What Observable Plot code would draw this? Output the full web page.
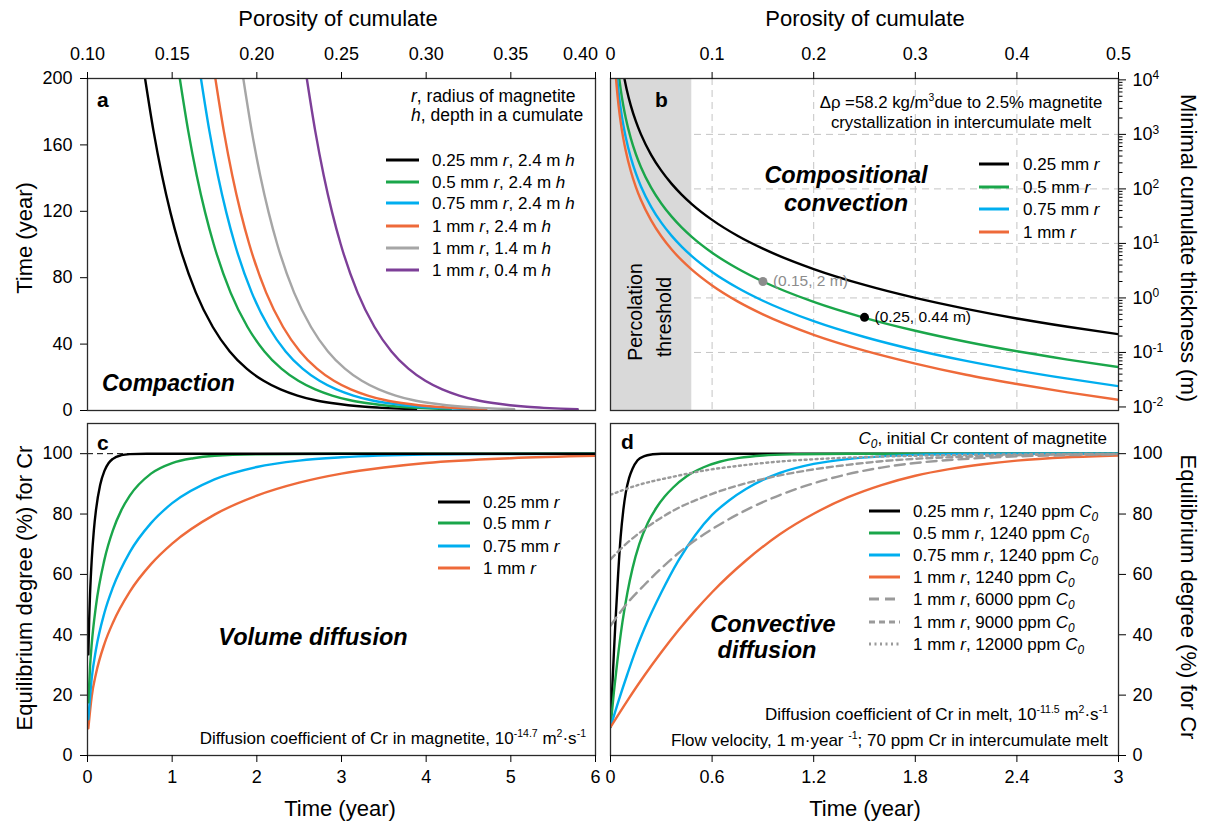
<!DOCTYPE html>
<html><head><meta charset="utf-8">
<script src="https://cdn.jsdelivr.net/npm/d3@7"></script>
<script src="https://cdn.jsdelivr.net/npm/@observablehq/plot@0.6"></script>
<style>
body{margin:0;background:#fff;}
#wrap{position:relative;width:1207px;height:823px;overflow:hidden;background:#fff;}
</style></head><body><div id="wrap"></div>
<script>
// ---------- colours ----------
const cBlack = "#000000", cGreen = "#1aa64a", cBlue = "#00aeef", cOrange = "#ee6a3a", cGrey = "#a6a6a6", cPurple = "#7d3f98", cDash = "#9a9a9a";
const FONT = '"Liberation Sans", Arial, Helvetica, sans-serif';

// ---------- panel a : compaction ----------
const aXTicks = [0.10, 0.15, 0.20, 0.25, 0.30, 0.35, 0.40];
const aYTicks = [0, 40, 80, 120, 160, 200];
const aLabels = [["0.25 mm ", "r", ", 2.4 m ", "h"], ["0.5 mm ", "r", ", 2.4 m ", "h"], ["0.75 mm ", "r", ", 2.4 m ", "h"], ["1 mm ", "r", ", 2.4 m ", "h"], ["1 mm ", "r", ", 1.4 m ", "h"], ["1 mm ", "r", ", 0.4 m ", "h"]];
const aTime = [200, 168.3, 141.6, 119.2, 100.3, 71.0, 50.3, 35.6, 25.2, 17.9, 12.7, 9.0, 6.3, 4.5, 3.2, 2.25, 1.6, 1.13, 0.8];
const aPhiBlack  = [0.134, 0.139, 0.144, 0.149, 0.154, 0.164, 0.174, 0.184, 0.194, 0.204, 0.214, 0.224, 0.234, 0.244, 0.254, 0.264, 0.274, 0.284, 0.294];
const aPhiGreen  = [0.1545, 0.1595, 0.1645, 0.1695, 0.1745, 0.1845, 0.1945, 0.2045, 0.2145, 0.2245, 0.2345, 0.2445, 0.2545, 0.2645, 0.2745, 0.2845, 0.2945, 0.3045, 0.3145];
const aPhiBlue   = [0.167, 0.172, 0.177, 0.182, 0.187, 0.197, 0.207, 0.217, 0.227, 0.237, 0.247, 0.257, 0.267, 0.277, 0.287, 0.297, 0.307, 0.317, 0.327];
const aPhiOrange = [0.1755, 0.1805, 0.1855, 0.1905, 0.1955, 0.2055, 0.2155, 0.2255, 0.2355, 0.2455, 0.2555, 0.2655, 0.2755, 0.2855, 0.2955, 0.3055, 0.3155, 0.3255, 0.3355];
const aPhiGrey   = [0.192, 0.197, 0.202, 0.207, 0.212, 0.222, 0.232, 0.242, 0.252, 0.262, 0.272, 0.282, 0.292, 0.302, 0.312, 0.322, 0.332, 0.342, 0.352];
const aPhiPurple = [0.2295, 0.2345, 0.2395, 0.2445, 0.2495, 0.2595, 0.2695, 0.2795, 0.2895, 0.2995, 0.3095, 0.3195, 0.3295, 0.3395, 0.3495, 0.3595, 0.3695, 0.3795, 0.3895];
const aColors = [cBlack, cGreen, cBlue, cOrange, cGrey, cPurple];

// ---------- panel b : compositional convection ----------
const bXTicks = [0, 0.1, 0.2, 0.3, 0.4, 0.5];
const bYTicks = [0.01, 0.1, 1, 10, 100, 1000, 10000];
const bGridX = [0.1, 0.2, 0.3, 0.4];
const bGridY = [0.1, 1, 10, 100, 1000];
const bPercolation = 0.08;
const bLabels = [["0.25 mm ", "r"], ["0.5 mm ", "r"], ["0.75 mm ", "r"], ["1 mm ", "r"]];
const bPhiBlack = [0.013, 0.016, 0.02, 0.025, 0.03, 0.04, 0.05, 0.06, 0.07, 0.08, 0.1, 0.125, 0.15, 0.2, 0.25, 0.3, 0.35, 0.4, 0.45, 0.5];
const bHBlack   = [12290, 6592, 3375, 1728, 1000, 422, 216, 125, 78.7, 52.7, 27, 13.8, 8, 3.38, 1.73, 1.0, 0.63, 0.42, 0.296, 0.216];
const bPhiGreen = [0.0085, 0.01, 0.0125, 0.015, 0.02, 0.025, 0.03, 0.04, 0.05, 0.06, 0.07, 0.08, 0.1, 0.125, 0.15, 0.2, 0.25, 0.3, 0.35, 0.4, 0.45, 0.5];
const bHGreen   = [10990, 6750, 3456, 2000, 844, 432, 250, 105.5, 54, 31.3, 19.7, 13.2, 6.75, 3.46, 2.0, 0.844, 0.432, 0.25, 0.157, 0.105, 0.074, 0.054];
const bPhiBlue  = [0.0065, 0.008, 0.01, 0.0125, 0.015, 0.02, 0.025, 0.03, 0.04, 0.05, 0.06, 0.07, 0.08, 0.1, 0.125, 0.15, 0.2, 0.25, 0.3, 0.35, 0.4, 0.45, 0.5];
const bHBlue    = [10925, 5860, 3000, 1536, 889, 375, 192, 111, 46.9, 24, 13.9, 8.75, 5.86, 3.0, 1.54, 0.889, 0.375, 0.192, 0.111, 0.070, 0.047, 0.033, 0.024];
const bPhiOrange = [0.0052, 0.006, 0.008, 0.01, 0.0125, 0.015, 0.02, 0.025, 0.03, 0.04, 0.05, 0.06, 0.07, 0.08, 0.1, 0.125, 0.15, 0.2, 0.25, 0.3, 0.35, 0.4, 0.45, 0.5];
const bHOrange   = [12000, 7813, 3296, 1688, 864, 500, 211, 108, 62.5, 26.4, 13.5, 7.81, 4.92, 3.3, 1.69, 0.864, 0.5, 0.211, 0.108, 0.0625, 0.039, 0.0264, 0.0185, 0.0135];
const bColors = [cBlack, cGreen, cBlue, cOrange];
const bPointPhi = [0.15, 0.25];
const bPointH = [2, 0.44];
const bPointText = ["(0.15, 2 m)", "(0.25, 0.44 m)"];
const bPointColor = ["#8c8c8c", "#000000"];

// ---------- panel c : volume diffusion ----------
const cXTicks = [0, 1, 2, 3, 4, 5, 6];
const cYTicks = [0, 20, 40, 60, 80, 100];
const cLabels = bLabels;
const cTBlack = [0.01, 0.02, 0.03, 0.05, 0.075, 0.1, 0.15, 0.2, 0.25, 0.3, 0.4, 0.5, 0.7, 1, 2, 3, 4, 5, 6];
const cVBlack = [33.5, 45.2, 53.4, 64.9, 74.6, 81.3, 89.7, 94.3, 96.9, 98.3, 99.5, 99.85, 100, 100, 100, 100, 100, 100, 100];
const cTGreen = [0.01, 0.03, 0.05, 0.1, 0.2, 0.3, 0.4, 0.5, 0.75, 1, 1.25, 1.5, 2, 3, 4, 5, 6];
const cVGreen = [17.6, 29.4, 37.0, 49.6, 64.9, 74.6, 81.3, 86.1, 93.4, 96.9, 98.5, 99.3, 99.8, 100, 100, 100, 100];
const cTBlue = [0.01, 0.05, 0.1, 0.2, 0.3, 0.5, 0.75, 1, 1.5, 2, 2.5, 3, 4, 5, 6];
const cVBlue = [12.0, 25.6, 35.1, 47.3, 55.7, 67.4, 77.0, 83.6, 91.5, 95.6, 97.7, 98.8, 99.7, 99.9, 100];
const cTOrange = [0.01, 0.05, 0.1, 0.2, 0.3, 0.5, 0.75, 1, 1.5, 2, 2.5, 3, 3.5, 4, 5, 6];
const cVOrange = [9.0, 19.6, 27.1, 37.0, 44.0, 54.3, 63.4, 70.2, 79.8, 86.1, 90.4, 93.4, 95.4, 96.9, 98.5, 99.3];
const cFull = 100;

// ---------- panel d : convective diffusion ----------
const dXTicks = [0, 0.6, 1.2, 1.8, 2.4, 3];
const dYTicks = [0, 20, 40, 60, 80, 100];
const dLabels = [["0.25 mm ", "r", ", 1240 ppm "], ["0.5 mm ", "r", ", 1240 ppm "], ["0.75 mm ", "r", ", 1240 ppm "], ["1 mm ", "r", ", 1240 ppm "], ["1 mm ", "r", ", 6000 ppm "], ["1 mm ", "r", ", 9000 ppm "], ["1 mm ", "r", ", 12000 ppm "]];
const dTBlack = [0, 0.01, 0.02, 0.03, 0.045, 0.06, 0.075, 0.09, 0.11, 0.13, 0.16, 0.2, 0.25, 0.3, 0.4, 3];
const dVBlack = [9.4, 22, 34, 45, 60, 72.5, 81, 87, 92, 95, 97.8, 99.2, 99.8, 100, 100, 100];
const dTGreen = [0, 0.02, 0.04, 0.07, 0.1, 0.13, 0.17, 0.22, 0.27, 0.32, 0.37, 0.45, 0.55, 0.65, 0.76, 0.9, 1.1, 1.4, 3];
const dVGreen = [9.4, 21, 31, 44, 54, 62, 70, 77, 82, 85.8, 88.8, 92.5, 95.5, 97.4, 98.6, 99.4, 99.8, 100, 100];
const dTBlue = [0, 0.05, 0.1, 0.15, 0.2, 0.3, 0.4, 0.5, 0.6, 0.7, 0.8, 0.9, 1.0, 1.2, 1.4, 1.6, 1.8, 2.1, 2.5, 3];
const dVBlue = [9.4, 18.5, 27, 35, 42, 54, 64.5, 73, 79.7, 84.5, 88.3, 91.3, 93.6, 96.6, 98.2, 99.1, 99.6, 99.9, 100, 100];
const dTOrange = [0, 0.1, 0.2, 0.3, 0.4, 0.5, 0.6, 0.8, 1.0, 1.2, 1.4, 1.6, 1.8, 2.0, 2.2, 2.4, 2.7, 3.0];
const dVOrange = [9.4, 18.2, 26.5, 34.2, 41.4, 48.0, 54.1, 64.6, 73.3, 80.1, 85.5, 89.6, 92.7, 94.9, 96.5, 97.7, 98.8, 99.4];
const dT6000 = [0, 0.1, 0.2, 0.3, 0.4, 0.5, 0.6, 0.8, 1.0, 1.2, 1.4, 1.6, 1.8, 2.0, 2.2, 2.4, 2.7, 3];
const dV6000 = [43, 50.5, 56.5, 62, 67, 71.3, 75, 81.3, 86.3, 90.2, 93.2, 95.4, 96.9, 97.9, 98.6, 99.1, 99.5, 99.8];
const dT9000 = [0, 0.1, 0.2, 0.3, 0.4, 0.5, 0.6, 0.8, 1.0, 1.2, 1.4, 1.6, 1.8, 2.1, 2.4, 3];
const dV9000 = [65, 70.5, 75, 78.8, 82, 84.5, 86.7, 90.2, 92.8, 94.8, 96.3, 97.5, 98.3, 99, 99.5, 99.85];
const dT12000 = [0, 0.168, 0.365, 0.563, 0.76, 0.958, 1.155, 1.51, 2, 2.5, 3];
const dV12000 = [86.4, 89.7, 92.3, 94.5, 96, 97.2, 98, 98.9, 99.5, 99.8, 99.9];
const dDash = [null, null, null, null, "10,6", "6,4", "2,3.5"];
const dColors = [cBlack, cGreen, cBlue, cOrange, cDash, cDash, cDash];

// ---------- helpers ----------
const wrap = document.getElementById("wrap");
const baseStyle = {fontFamily: FONT, fontSize: "18px", color: "#000", background: "transparent", overflow: "visible"};
function place(el, left, top) { el.style.position = "absolute"; el.style.left = left + "px"; el.style.top = top + "px"; wrap.appendChild(el); }
function rows(xs, ys) { return xs.map((x, i) => ({x, y: ys[i]})); }
const frame = () => Plot.frame({stroke: "#2a2a2a", strokeWidth: 1.3});
const LW = 2.4;
const TS = 7;
const f2 = d3.format(".2f");

// ---------- panel a ----------
const aSets = [aPhiBlack, aPhiGreen, aPhiBlue, aPhiOrange, aPhiGrey, aPhiPurple];
const aLast = aXTicks[aXTicks.length - 1];
const plotA = Plot.plot({
  width: 600, height: 415, marginLeft: 87, marginRight: 5, marginTop: 78, marginBottom: 5,
  x: {domain: [0.10, 0.40]}, y: {domain: [0, 200]}, style: baseStyle,
  marks: [
    ...aSets.map((p, i) => Plot.line(rows(p, aTime), {x: "x", y: "y", stroke: aColors[i], strokeWidth: LW, curve: "monotone-x", clip: true})),
    frame(),
    Plot.axisX({anchor: "top", ticks: aXTicks, tickFormat: d => d === aLast ? "" : f2(d), tickSize: TS, tickPadding: 12, label: null}),
    Plot.axisX({anchor: "top", ticks: [aLast], tickFormat: f2, tickSize: 0, tickPadding: 12 + TS, dx: -15, label: null}),
    Plot.axisY({anchor: "left", ticks: aYTicks, tickSize: TS, tickPadding: 8, label: null})
  ]
});
place(plotA, 0, 0);

// ---------- panel b ----------
const bSets = [[bPhiBlack, bHBlack], [bPhiGreen, bHGreen], [bPhiBlue, bHBlue], [bPhiOrange, bHOrange]];
const bMinor = d3.scaleLog().domain([0.01, 10000]).ticks().filter(v => !bYTicks.some(t => Math.abs(t - v) / t < 1e-6));
const bPts = bPointPhi.map((p, i) => ({x: p, y: bPointH[i], text: bPointText[i], color: bPointColor[i]}));
const plotB = Plot.plot({
  width: 607, height: 415, marginLeft: 10, marginRight: 89, marginTop: 78, marginBottom: 5,
  x: {domain: [0, 0.5]}, y: {type: "log", domain: [Math.pow(10, -2.065), Math.pow(10, 4.025)]}, style: baseStyle,
  marks: [
    Plot.gridX({ticks: bGridX, stroke: "#c4c4c4", strokeOpacity: 1, strokeWidth: 1, strokeDasharray: "7,5"}),
    Plot.gridY({ticks: bGridY, stroke: "#c4c4c4", strokeOpacity: 1, strokeWidth: 1, strokeDasharray: "7,5"}),
    Plot.rect([{x1: 0, x2: bPercolation}], {x1: "x1", x2: "x2", fill: "#d9d9d9"}),
    ...bSets.map((s, i) => Plot.line(rows(s[0], s[1]), {x: "x", y: "y", stroke: bColors[i], strokeWidth: LW, curve: "monotone-x", clip: true})),
    ...bPts.map(p => Plot.dot([p], {x: "x", y: "y", r: 4.5, fill: p.color, stroke: "none"})),
    ...bPts.map(p => Plot.text([p], {x: "x", y: "y", text: "text", fill: p.color, dx: 10, textAnchor: "start", fontSize: 15.5})),
    frame(),
    Plot.axisX({anchor: "top", ticks: bXTicks, tickFormat: d => String(d), tickSize: TS, tickPadding: 12, label: null}),
    Plot.axisY({anchor: "right", ticks: bMinor, tickSize: 3.5, tickFormat: () => "", label: null}),
    Plot.axisY({anchor: "right", ticks: bYTicks, tickSize: TS, tickPadding: 7, tickFormat: d => "E" + Math.round(Math.log10(d)), label: null})
  ]
});
plotB.querySelectorAll("text").forEach(t => {
  const s = t.textContent;
  if (/^E-?\d+$/.test(s)) {
    const ns = "http://www.w3.org/2000/svg";
    t.textContent = "";
    const a = document.createElementNS(ns, "tspan"); a.textContent = "10";
    const b = document.createElementNS(ns, "tspan"); b.textContent = s.slice(1);
    b.setAttribute("dy", "-0.55em"); b.setAttribute("font-size", "12px");
    t.append(a, b);
  }
});
place(plotB, 600, 0);

// ---------- panel c ----------
const cSets = [[cTBlack, cVBlack], [cTGreen, cVGreen], [cTBlue, cVBlue], [cTOrange, cVOrange]];
const plotC = Plot.plot({
  width: 600, height: 408, marginLeft: 87, marginRight: 5, marginTop: 8, marginBottom: 68,
  x: {domain: [0, 6]}, y: {domain: [0, 110]}, style: baseStyle,
  marks: [
    Plot.ruleY([cFull], {stroke: "#000", strokeWidth: 1, strokeDasharray: "6,4"}),
    ...cSets.slice().reverse().map((s, j) => Plot.line(rows(s[0], s[1]), {x: "x", y: "y", stroke: bColors[3 - j], strokeWidth: LW, curve: "monotone-x", clip: true})),
    frame(),
    Plot.axisX({anchor: "bottom", ticks: cXTicks, tickFormat: d => String(d), tickSize: TS, tickPadding: 8, label: null}),
    Plot.axisY({anchor: "left", ticks: cYTicks, tickSize: TS, tickPadding: 8, label: null})
  ]
});
place(plotC, 0, 415);

// ---------- panel d ----------
const dSets = [[dTBlack, dVBlack], [dTGreen, dVGreen], [dTBlue, dVBlue], [dTOrange, dVOrange], [dT6000, dV6000], [dT9000, dV9000], [dT12000, dV12000]];
const plotD = Plot.plot({
  width: 607, height: 408, marginLeft: 10, marginRight: 89, marginTop: 8, marginBottom: 68,
  x: {domain: [0, 3]}, y: {domain: [0, 110]}, style: baseStyle,
  marks: [
    ...dSets.map((s, i) => Plot.line(rows(s[0], s[1]), {x: "x", y: "y", stroke: dColors[i], strokeWidth: LW, strokeDasharray: dDash[i] || undefined, curve: "monotone-x", clip: true})),
    frame(),
    Plot.axisX({anchor: "bottom", ticks: dXTicks, tickFormat: d => String(d), tickSize: TS, tickPadding: 8, label: null}),
    Plot.axisY({anchor: "right", ticks: dYTicks, tickSize: TS, tickPadding: 7, label: null})
  ]
});
place(plotD, 600, 415);

// ---------- overlay texts & legends ----------
const ov = d3.select(wrap).append("svg").attr("width", 1207).attr("height", 823)
  .style("position", "absolute").style("left", "0px").style("top", "0px").style("pointer-events", "none")
  .attr("font-family", FONT);

function txt(x, y, parts, o = {}) {
  const size = o.size || 17;
  const t = ov.append("text").attr("font-size", size).attr("text-anchor", o.anchor || "start").attr("fill", o.fill || "#000");
  if (o.rotate) t.attr("transform", `translate(${x},${y}) rotate(${o.rotate})`);
  else t.attr("x", x).attr("y", y);
  if (o.weight) t.attr("font-weight", o.weight);
  if (o.style) t.attr("font-style", o.style);
  let cur = 0;
  (typeof parts === "string" ? [parts] : parts).forEach(p => {
    const [s, f] = typeof p === "string" ? [p, ""] : p;
    const ts = t.append("tspan").text(s);
    if (f.includes("i")) ts.attr("font-style", "italic");
    let want = 0;
    if (f.includes("sup")) { want = -0.42 * size; ts.attr("font-size", 0.62 * size); }
    if (f.includes("sub")) { want = 0.22 * size; ts.attr("font-size", 0.7 * size); }
    if (want !== cur) { ts.attr("dy", want - cur); cur = want; }
  });
  return t;
}
function swatch(x1, x2, y, color, dash) {
  const l = ov.append("line").attr("x1", x1).attr("x2", x2).attr("y1", y).attr("y2", y).attr("stroke", color).attr("stroke-width", 3);
  if (dash) l.attr("stroke-dasharray", dash);
}

// axis titles
txt(338, 26, "Porosity of cumulate", {size: 22, anchor: "middle"});
txt(865, 26, "Porosity of cumulate", {size: 22, anchor: "middle"});
txt(340, 816, "Time (year)", {size: 22, anchor: "middle"});
txt(865, 816, "Time (year)", {size: 22, anchor: "middle"});
txt(32, 238, "Time (year)", {size: 22, anchor: "middle", rotate: -90});
txt(32, 588, "Equilibrium degree (%) for Cr", {size: 22, anchor: "middle", rotate: -90});
txt(1181, 248, "Minimal cumulate thickness (m)", {size: 22, anchor: "middle", rotate: 90});
txt(1181, 597, "Equilibrium degree (%) for Cr", {size: 22, anchor: "middle", rotate: 90});

// panel letters
txt(97, 107, "a", {size: 21, weight: "bold"});
txt(655, 107, "b", {size: 21, weight: "bold"});
txt(97, 450, "c", {size: 21, weight: "bold"});
txt(621, 449, "d", {size: 21, weight: "bold"});

// panel a texts
txt(411, 102, [["r", "i"], ", radius of magnetite"], {size: 17.5});
txt(411, 121, [["h", "i"], ", depth in a cumulate"], {size: 17.5});
[160, 182, 203, 226, 248, 270].forEach((y, i) => {
  swatch(386, 419, y, aColors[i]);
  const L = aLabels[i];
  txt(432, y + 6, [L[0], [L[1], "i"], L[2], [L[3], "i"]], {size: 17});
});
txt(102, 391, "Compaction", {size: 23, weight: "bold", style: "italic"});

// panel b texts
txt(961, 108, ["\u0394\u03c1 =58.2 kg/m", ["3", "sup"], "due to 2.5% magnetite"], {size: 16.8, anchor: "middle"});
txt(961, 128, "crystallization in intercumulate melt", {size: 16.8, anchor: "middle"});
txt(846, 183, "Compositional", {size: 23.5, weight: "bold", style: "italic", anchor: "middle"});
txt(846, 211, "convection", {size: 23.5, weight: "bold", style: "italic", anchor: "middle"});
txt(642, 312, "Percolation", {size: 19.5, anchor: "middle", rotate: -90});
txt(671, 317, "threshold", {size: 19.5, anchor: "middle", rotate: -90});
[164, 187, 209, 232].forEach((y, i) => {
  swatch(979, 1009, y, bColors[i]);
  txt(1023, y + 6, [bLabels[i][0], [bLabels[i][1], "i"]], {size: 17});
});

// panel c texts
[502, 523, 546, 568].forEach((y, i) => {
  swatch(438, 470, y, bColors[i]);
  txt(483, y + 6, [cLabels[i][0], [cLabels[i][1], "i"]], {size: 17});
});
txt(313, 645, "Volume diffusion", {size: 23.5, weight: "bold", style: "italic", anchor: "middle"});
txt(586, 744, ["Diffusion coefficient of Cr in magnetite, 10", ["-14.7", "sup"], " m", ["2", "sup"], "\u00b7s", ["-1", "sup"]], {size: 17, anchor: "end"});

// panel d texts
txt(1107, 444, [["C", "i"], ["0", "i sub"], ", initial Cr content of magnetite"], {size: 17, anchor: "end"});
[511, 533, 555, 577, 599, 622, 644].forEach((y, i) => {
  swatch(869, 900, y, dColors[i], dDash[i]);
  const L = dLabels[i];
  txt(913, y + 6, [L[0], [L[1], "i"], L[2], ["C", "i"], ["0", "i sub"]], {size: 17});
});
txt(773, 632, "Convective", {size: 23.5, weight: "bold", style: "italic", anchor: "middle"});
txt(767, 658, "diffusion", {size: 23.5, weight: "bold", style: "italic", anchor: "middle"});
txt(1108, 720, ["Diffusion coefficient of Cr in melt, 10", ["-11.5", "sup"], " m", ["2", "sup"], "\u00b7s", ["-1", "sup"]], {size: 17, anchor: "end"});
txt(1108, 746, ["Flow velocity, 1 m\u00b7year ", ["-1", "sup"], "; 70 ppm Cr in intercumulate melt"], {size: 17, anchor: "end"});
</script></body></html>
